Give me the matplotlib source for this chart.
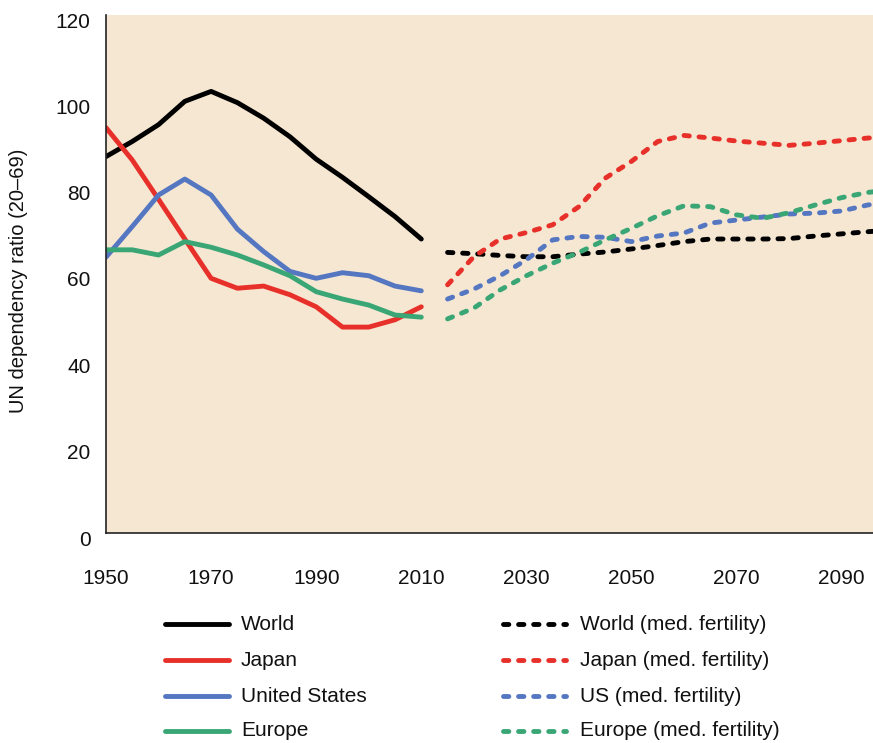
import matplotlib
matplotlib.use("Agg")
import matplotlib.pyplot as plt
import matplotlib.transforms as mtransforms
from matplotlib.lines import Line2D

plt.rcParams['font.family'] = ['Liberation Sans', 'DejaVu Sans']

# ---------------- data ----------------
hist_years = [1950, 1955, 1960, 1965, 1970, 1975, 1980, 1985, 1990, 1995, 2000, 2005, 2010]
world_hist = [87.2, 90.7, 94.6, 100.0, 102.3, 99.7, 96.1, 91.8, 86.6, 82.4, 77.9, 73.3, 68.1]
japan_hist = [93.9, 86.4, 77.3, 68.1, 59.0, 56.7, 57.2, 55.2, 52.4, 47.7, 47.7, 49.4, 52.4]
us_hist = [63.9, 71.0, 78.3, 82.0, 78.3, 70.4, 65.2, 60.6, 59.0, 60.3, 59.6, 57.2, 56.1]
europe_hist = [65.6, 65.6, 64.4, 67.5, 66.2, 64.4, 62.1, 59.6, 55.9, 54.2, 52.8, 50.5, 50.0]

proj_years = [2015, 2020, 2025, 2030, 2035, 2040, 2045, 2050, 2055, 2060,
              2065, 2070, 2075, 2080, 2085, 2090, 2095, 2100]
world_proj = [65.0, 64.7, 64.3, 64.0, 64.0, 64.6, 65.1, 65.8, 66.6, 67.5,
              68.1, 68.1, 68.1, 68.2, 68.8, 69.3, 69.8, 70.2]
japan_proj = [57.5, 64.0, 68.1, 69.6, 71.4, 75.6, 82.2, 86.1, 90.7, 92.1,
              91.5, 90.8, 90.3, 89.8, 90.3, 90.9, 91.5, 91.8]
us_proj = [54.2, 56.5, 59.6, 63.3, 67.9, 68.7, 68.5, 67.5, 68.8, 69.5,
           71.8, 72.5, 73.2, 73.9, 74.1, 74.6, 76.0, 76.8]
europe_proj = [49.6, 52.1, 56.3, 59.6, 62.5, 65.0, 67.9, 70.6, 73.5, 75.8,
               75.6, 73.7, 72.9, 74.2, 76.0, 77.7, 78.9, 79.6]

x_ticks = [1950, 1970, 1990, 2010, 2030, 2050, 2070, 2090]
y_ticks = [0, 20, 40, 60, 80, 100, 120]

hist_labels = ["World", "Japan", "United States", "Europe"]
proj_labels = ["World (med. fertility)", "Japan (med. fertility)",
               "US (med. fertility)", "Europe (med. fertility)"]
colors = ["#000000", "#e8302a", "#5577c2", "#3aa675"]

# ---------------- figure ----------------
W, H = 873, 743
fig = plt.figure(figsize=(W / 100, H / 100), dpi=100)
ax_l, ax_r, ax_t, ax_b = 106, 873, 15, 533
ax = fig.add_axes([ax_l / W, 1 - ax_b / H, (ax_r - ax_l) / W, (ax_b - ax_t) / H])
ax.set_facecolor("#f6e7d2")

LW = 3.5
DASH = (0, (1.1, 2.0))
FS = 15

hist = [world_hist, japan_hist, us_hist, europe_hist]
proj = [world_proj, japan_proj, us_proj, europe_proj]
for vals, c in zip(hist, colors):
    ax.plot(hist_years, vals, color=c, lw=LW, solid_capstyle='round', solid_joinstyle='round')
for vals, c in zip(proj, colors):
    ax.plot(proj_years, vals, color=c, lw=LW, linestyle=DASH, dash_capstyle='round')

ax.set_xlim(1950, 1950 + (ax_r - ax_l) / 5.255)
ax.set_ylim(0, 120)
ax.set_xticks(x_ticks)
ax.set_yticks(y_ticks)
ax.tick_params(axis='both', length=0, labelsize=FS, colors='#111111')
ax.tick_params(axis='x', pad=26)
ax.tick_params(axis='y', pad=11)
for s in ['top', 'right']:
    ax.spines[s].set_visible(False)
for s in ['left', 'bottom']:
    ax.spines[s].set_linewidth(1.2)
    ax.spines[s].set_color('#222222')

offset = mtransforms.ScaledTranslation(0, -5 / 100, fig.dpi_scale_trans)
for lab in ax.get_yticklabels():
    lab.set_transform(lab.get_transform() + offset)

fig.text(19 / W, 1 - 281 / H, "UN dependency ratio (20–69)", rotation=90,
         ha='center', va='center', fontsize=14.5, color='#111111')

# ---------------- legend ----------------
rows_y = [624, 660, 696, 731]
def fx(px):
    return px / W
def fy(py):
    return 1 - py / H

for i, (lab, c) in enumerate(zip(hist_labels, colors)):
    y = rows_y[i]
    fig.add_artist(Line2D([fx(165), fx(229)], [fy(y), fy(y)], color=c, lw=LW,
                          solid_capstyle='round', transform=fig.transFigure))
    fig.text(fx(241), fy(y), lab, ha='left', va='center', fontsize=FS, color='#111111')
for i, (lab, c) in enumerate(zip(proj_labels, colors)):
    y = rows_y[i]
    fig.add_artist(Line2D([fx(503), fx(566)], [fy(y), fy(y)], color=c, lw=LW,
                          linestyle=DASH, dash_capstyle='round', transform=fig.transFigure))
    fig.text(fx(580), fy(y), lab, ha='left', va='center', fontsize=FS, color='#111111')

fig.savefig("out.png", dpi=100)
